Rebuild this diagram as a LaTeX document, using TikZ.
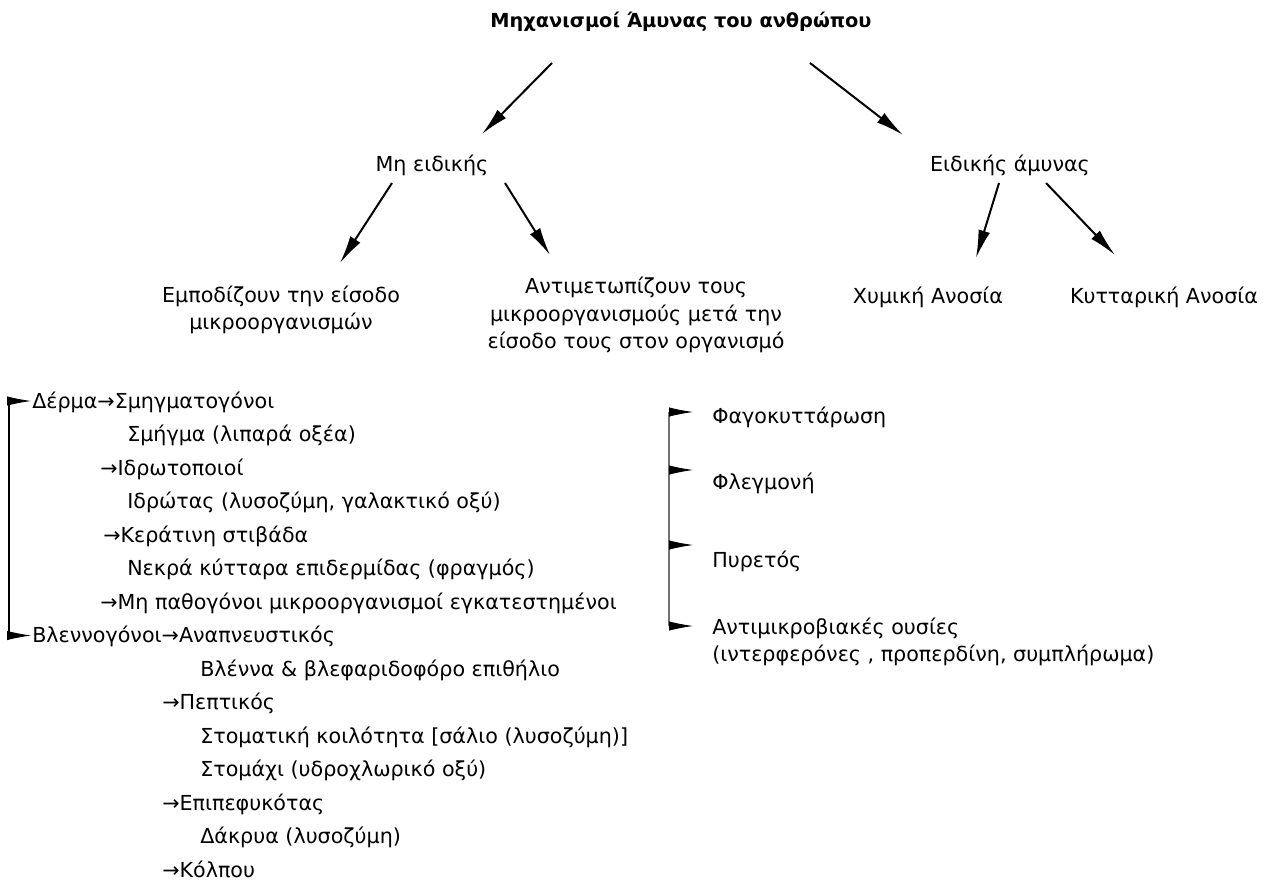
\documentclass[tikz,border=0pt]{standalone}
\usepackage{fontspec}
\setmainfont{DejaVu Sans}
\usetikzlibrary{arrows.meta}
\begin{document}
\begin{tikzpicture}[x=0.75pt,y=-0.75pt,
  every node/.style={inner sep=0pt, font=\fontsize{15.5}{20.5}\selectfont},
  lbl/.style={anchor=base west},
  multi/.style={align=center},
  tree/.style={line width=1.5pt, -{Latex[length=21pt,width=9pt]}},
  flag/.style={line width=0.6pt, -{Latex[length=18pt,width=7pt]}},
  rail/.style={line width=0.8pt, draw=black},
  grayrail/.style={line width=1.2pt, draw=black!55}]
\path[use as bounding box] (0,0) rectangle (1270,885);

% tree
\node[font=\fontsize{14.5}{20}\selectfont\bfseries] (title) at (681,22) {Μηχανισμοί Άμυνας του ανθρώπου};
\node (nonspec) at (432,165) {Μη ειδικής};
\node (spec) at (1010,165) {Ειδικής άμυνας};
\node[multi] (block) at (281,310) {Εμποδίζουν την είσοδο\\μικροοργανισμών};
\node[multi] (fight) at (636,315) {Αντιμετωπίζουν τους\\μικροοργανισμούς μετά την\\είσοδο τους στον οργανισμό};
\node (humoral) at (928,297) {Χυμική Ανοσία};
\node (cellular) at (1164,297) {Κυτταρική Ανοσία};

\coordinate (t1) at (552,63);   \coordinate (n1) at (482,134);
\coordinate (t2) at (810,63);   \coordinate (s1) at (903,135);
\coordinate (n2) at (392,183);  \coordinate (b1) at (340,263);
\coordinate (n3) at (505,183);  \coordinate (f1) at (550,255);
\coordinate (s2) at (999,183);  \coordinate (h1) at (976,258);
\coordinate (s3) at (1046,183); \coordinate (c1) at (1115,255);
\draw[tree] (t1) -- (n1);
\draw[tree] (t2) -- (s1);
\draw[tree] (n2) -- (b1);
\draw[tree] (n3) -- (f1);
\draw[tree] (s2) -- (h1);
\draw[tree] (s3) -- (c1);

% left list
\node[lbl] (l0)  at (32,408)    {Δέρμα→Σμηγματογόνοι};
\node[lbl] (l1)  at (127,441.5) {Σμήγμα (λιπαρά οξέα)};
\node[lbl] (l2)  at (100,475)   {→Ιδρωτοποιοί};
\node[lbl] (l3)  at (127,508.5) {Ιδρώτας (λυσοζύμη, γαλακτικό οξύ)};
\node[lbl] (l4)  at (103,542)   {→Κεράτινη στιβάδα};
\node[lbl] (l5)  at (127,575.5) {Νεκρά κύτταρα επιδερμίδας (φραγμός)};
\node[lbl] (l6)  at (100,609)   {→Μη παθογόνοι μικροοργανισμοί εγκατεστημένοι};
\node[lbl] (l7)  at (32,642.5)  {Βλεννογόνοι→Αναπνευστικός};
\node[lbl] (l8)  at (200,676)   {Βλέννα \& βλεφαριδοφόρο επιθήλιο};
\node[lbl] (l9)  at (162,709.5) {→Πεπτικός};
\node[lbl] (l10) at (200,743)   {Στοματική κοιλότητα [σάλιο (λυσοζύμη)]};
\node[lbl] (l11) at (200,776.5) {Στομάχι (υδροχλωρικό οξύ)};
\node[lbl] (l12) at (162,810)   {→Επιπεφυκότας};
\node[lbl] (l13) at (200,843.5) {Δάκρυα (λυσοζύμη)};
\node[lbl] (l14) at (162,877)   {→Κόλπου};

\coordinate (ltop) at (9,401);
\coordinate (lbot) at (9,635.5);
\draw[rail] (ltop) -- (lbot);
\coordinate (la0) at (31,401);
\coordinate (la7) at (31,635.5);
\draw[flag] (ltop) -- (la0);
\draw[flag] (lbot) -- (la7);

% right list
\node[lbl] (r0) at (712,423) {Φαγοκυττάρωση};
\node[lbl] (r1) at (712,489) {Φλεγμονή};
\node[lbl] (r2) at (712,567) {Πυρετός};
\node[lbl] (r3) at (712,634) {Αντιμικροβιακές ουσίες};
\node[lbl] (r4) at (712,661) {(ιντερφερόνες , προπερδίνη, συμπλήρωμα)};

\coordinate (rtop) at (669,412);
\coordinate (rm1) at (669,470);
\coordinate (rm2) at (669,545);
\coordinate (rbot) at (669,626);
\draw[grayrail] (rtop) -- (rbot);
\coordinate (ra0) at (693,412);
\coordinate (ra1) at (693,470);
\coordinate (ra2) at (693,545);
\coordinate (ra3) at (693,626);
\draw[flag] (rtop) -- (ra0);
\draw[flag] (rm1) -- (ra1);
\draw[flag] (rm2) -- (ra2);
\draw[flag] (rbot) -- (ra3);
\end{tikzpicture}
\end{document}
